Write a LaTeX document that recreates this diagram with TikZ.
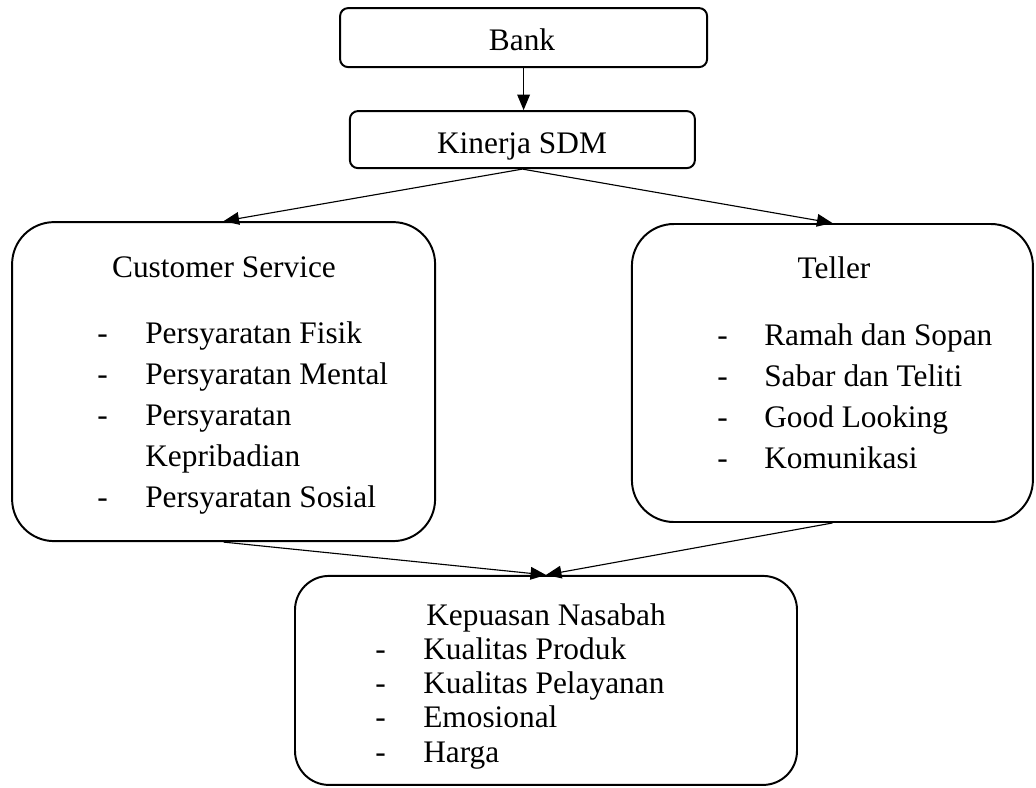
\documentclass[tikz,border=0pt]{standalone}
\usepackage{fontspec}
\setmainfont{Liberation Serif}
\usepackage{tikz}
\usetikzlibrary{arrows.meta,positioning}

\begin{document}
\begin{tikzpicture}[
    x=1cm,y=1cm,
    >={Triangle[length=11pt,width=9pt]},
    font=\fontsize{22.3}{29.2}\selectfont,
    box/.style={
        draw,
        line width=1.4pt,
        inner sep=0pt
    },
    smallbox/.style={box, rounded corners=0.2cm},
    bigbox/.style={box, rounded corners=1.05cm},
    title/.style={anchor=base, inner sep=0pt},
    list/.style={anchor=base west, inner sep=0pt},
    link/.style={->, line width=0.8pt}
]

\useasboundingbox (0,0) rectangle (25.9,-19.675);

\node[smallbox, minimum width=9.175cm, minimum height=1.475cm] (bank) at (13.09,-0.94) {};
\node[title] (banktxt) at (13.05,-1.25) {Bank};

\node[smallbox, minimum width=8.625cm, minimum height=1.425cm] (sdm) at (13.06,-3.49) {};
\node[title] (sdmtxt) at (13.05,-3.825) {Kinerja SDM};

\node[bigbox, minimum width=10.575cm, minimum height=7.975cm] (cs) at (5.59,-9.54) {};
\node[title] (cstxt) at (5.6,-6.925) {Customer Service};
\node[list] (cslist) at (2.425,-8.575) {%
    \begin{tabular}[t]{@{}p{1.2cm}@{}l@{}}
    - & Persyaratan Fisik\\
    - & Persyaratan Mental\\
    - & Persyaratan\\
      & Kepribadian\\
    - & Persyaratan Sosial
    \end{tabular}};

\node[bigbox, minimum width=10.025cm, minimum height=7.45cm] (teller) at (20.81,-9.325) {};
\node[title] (tellertxt) at (20.85,-6.95) {Teller};
\node[list] (tellerlist) at (17.925,-8.625) {%
    \begin{tabular}[t]{@{}p{1.175cm}@{}l@{}}
    - & Ramah dan Sopan\\
    - & Sabar dan Teliti\\
    - & Good Looking\\
    - & Komunikasi
    \end{tabular}};

\node[box, rounded corners=0.85cm, minimum width=12.55cm, minimum height=5.225cm] (puas) at (13.65,-17.01) {};
\node[title] (puastxt) at (13.65,-15.625) {Kepuasan Nasabah};
\node[list] (puaslist) at (9.375,-16.475) {\fontsize{22.3}{24.5}\selectfont
    \begin{tabular}[t]{@{}p{1.2cm}@{}l@{}}
    - & Kualitas Produk\\
    - & Kualitas Pelayanan\\
    - & Emosional\\
    - & Harga
    \end{tabular}};

\draw[link] (bank.south) -- (bank.south |- sdm.north);
\draw[link] (sdm.south) -- (cs.north);
\draw[link] (sdm.south) -- (teller.north);
\draw[link] (cs.south) -- (puas.north);
\draw[link] (teller.south) -- (puas.north);

\end{tikzpicture}
\end{document}
